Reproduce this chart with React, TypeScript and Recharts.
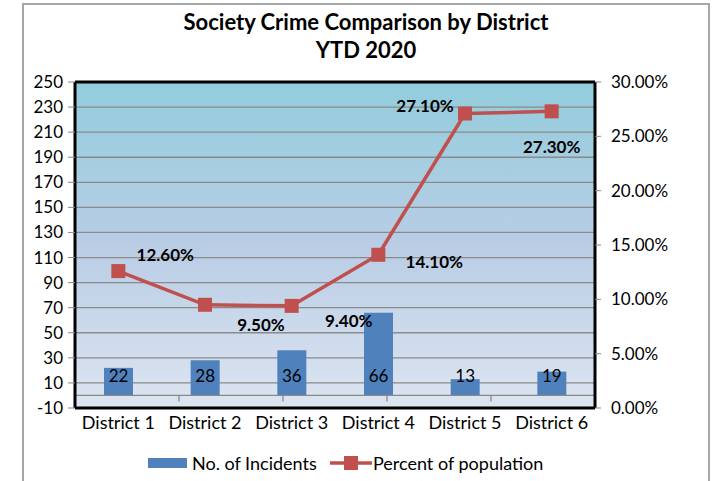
import React from "react";
import {
  ComposedChart,
  Bar,
  Line,
  XAxis,
  YAxis,
  CartesianGrid,
  ReferenceLine,
  LabelList,
  Legend,
} from "recharts";

const districts = ["District 1", "District 2", "District 3", "District 4", "District 5", "District 6"];
const incidents = [22, 28, 36, 66, 13, 19];
const percentOfPopulation = [0.126, 0.095, 0.094, 0.141, 0.271, 0.273];
const leftTicks = [-10, 10, 30, 50, 70, 90, 110, 130, 150, 170, 190, 210, 230, 250];
const rightTicks = [0, 0.05, 0.1, 0.15, 0.2, 0.25, 0.3];
const categoryBoundaries = [1, 2, 3, 4, 5];

// where each percent label sits relative to its marker (dx, dy)
const pctLabelOffsets = [
  [47, -17],
  [56, 20],
  [57, 15],
  [56, 7],
  [-40, -8],
  [0, 35],
];

const BLUE = "#4F81BD";
const RED = "#C0504D";
const FONT = "Lato, 'Noto Sans', sans-serif";

const data = districts.map((d, i) => ({
  district: d,
  incidents: incidents[i],
  percent: percentOfPopulation[i],
}));

const fmtPct = (v: number) => (v * 100).toFixed(2) + "%";

const BarValueLabel = (p: any) => {
  const x = Number(p.x);
  const w = Number(p.width);
  const base = Number(p.y) + Number(p.height);
  return (
    <text x={x + w / 2} y={base - 20} textAnchor="middle" dominantBaseline="central" fontSize={17} fill="#000">
      {p.value}
    </text>
  );
};

const PctLabel = (p: any) => {
  const [dx, dy] = pctLabelOffsets[p.index] || [0, -15];
  return (
    <text
      x={Number(p.x) + dx}
      y={Number(p.y) + dy}
      textAnchor="middle"
      dominantBaseline="central"
      fontSize={17}
      fontWeight="bold"
      fill="#000"
    >
      {fmtPct(Number(p.value))}
    </text>
  );
};

const SquareDot = (p: any) => {
  if (p.cx == null || p.cy == null) return <g key={`d-${p.index}`} />;
  return <rect key={`d-${p.index}`} x={p.cx - 7} y={p.cy - 7} width={14} height={14} fill={RED} />;
};

const LegendBox = () => (
  <div style={{ position: "relative", height: 24, fontFamily: FONT, fontSize: 18, color: "#000" }}>
    <div style={{ position: "absolute", left: 148, top: 6, width: 39, height: 10, background: BLUE }} />
    <span style={{ position: "absolute", left: 192, top: 0, lineHeight: "22px", whiteSpace: "nowrap" }}>No. of Incidents</span>
    <svg style={{ position: "absolute", left: 330, top: 0 }} width={42} height={22}>
      <line x1={0} y1={11} x2={42} y2={11} stroke={RED} strokeWidth={3.5} />
      <rect x={14} y={4} width={14} height={14} fill={RED} />
    </svg>
    <span style={{ position: "absolute", left: 373, top: 0, lineHeight: "22px", whiteSpace: "nowrap" }}>
      Percent of population
    </span>
  </div>
);

export default function App() {
  return (
    <div
      style={{
        position: "absolute",
        left: 0,
        top: 0,
        width: 713,
        height: 481,
        overflow: "hidden",
        background: "#fff",
        fontFamily: FONT,
      }}
    >
      <div
        style={{
          position: "absolute",
          left: 22,
          top: 3,
          width: 688,
          height: 520,
          border: "2px solid #a6a6a6",
          boxSizing: "border-box",
        }}
      />
      <div
        style={{
          position: "absolute",
          left: 23,
          top: 8,
          width: 686,
          textAlign: "center",
          fontWeight: "bold",
          fontSize: 22,
          lineHeight: "28px",
          color: "#000",
        }}
      >
        Society Crime Comparison by District
        <br />
        YTD 2020
      </div>
      <ComposedChart
        width={713}
        height={481}
        data={data}
        margin={{ top: 82, right: 18, left: 15, bottom: 43 }}
      >
        <defs>
          <linearGradient id="plotBg" x1="0" y1="0" x2="0" y2="1">
            <stop offset="0%" stopColor="#92CDDC" />
            <stop offset="50%" stopColor="#B9CDE5" />
            <stop offset="100%" stopColor="#DDE5F1" />
          </linearGradient>
        </defs>
        <CartesianGrid
          yAxisId="left"
          vertical={false}
          stroke="#8a8a8a"
          strokeWidth={1.3}
          fill="url(#plotBg)"
          fillOpacity={1}
        />
        <XAxis
          dataKey="district"
          axisLine={{ stroke: "#000", strokeWidth: 3 }}
          tickLine={false}
          tick={{ fill: "#000", fontSize: 18 }}
          interval={0}
          height={30}
        />
        <XAxis xAxisId="num" type="number" domain={[0, 6]} hide />
        <YAxis
          yAxisId="left"
          type="number"
          domain={[-10, 250]}
          ticks={leftTicks}
          interval={0}
          width={60}
          axisLine={{ stroke: "#000", strokeWidth: 3 }}
          tickLine={{ stroke: "#888" }}
          tickSize={7}
          tickMargin={5}
          tick={{ fill: "#000", fontSize: 17 }}
        />
        <YAxis
          yAxisId="right"
          orientation="right"
          type="number"
          domain={[0, 0.3]}
          ticks={rightTicks}
          interval={0}
          width={100}
          tickFormatter={fmtPct}
          axisLine={{ stroke: "#000", strokeWidth: 3 }}
          tickLine={{ stroke: "#888" }}
          tickSize={6}
          tickMargin={10}
          tick={{ fill: "#000", fontSize: 17, textAnchor: "start" }}
        />
        <ReferenceLine yAxisId="left" y={0} stroke="#888" strokeWidth={1.3} />
        {categoryBoundaries.map((k) => (
          <ReferenceLine
            key={k}
            xAxisId="num"
            yAxisId="left"
            segment={[
              { x: k, y: 0 },
              { x: k, y: -4.8 },
            ]}
            stroke="#888"
            strokeWidth={1.3}
          />
        ))}
        <Bar yAxisId="left" dataKey="incidents" fill={BLUE} barSize={29} isAnimationActive={false}>
          <LabelList dataKey="incidents" content={BarValueLabel} />
        </Bar>
        <Line
          yAxisId="right"
          dataKey="percent"
          stroke={RED}
          strokeWidth={3.5}
          dot={SquareDot}
          activeDot={false}
          isAnimationActive={false}
        >
          <LabelList dataKey="percent" content={PctLabel} />
        </Line>
        <ReferenceLine yAxisId="left" y={250} stroke="#000" strokeWidth={3} />
        <Legend
          layout="horizontal"
          verticalAlign="middle"
          align="center"
          wrapperStyle={{ top: 452, left: 0, width: 713, height: 24 }}
          content={LegendBox}
        />
      </ComposedChart>
    </div>
  );
}
